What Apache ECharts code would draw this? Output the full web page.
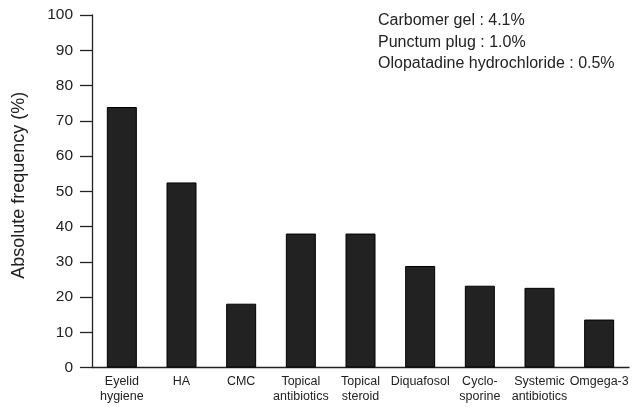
<!DOCTYPE html>
<html>
<head>
<meta charset="utf-8">
<script src="https://cdn.jsdelivr.net/npm/echarts@6/dist/echarts.min.js"></script>
<style>
  html, body { margin: 0; padding: 0; background: #fff; }
  #main { width: 633px; height: 407px; }
</style>
</head>
<body>
<div id="main"></div>
<script>
// data
const categories = ['Eyelid\nhygiene', 'HA', 'CMC', 'Topical\nantibiotics', 'Topical\nsteroid',
  'Diquafosol', 'Cyclo-\nsporine', 'Systemic\nantibiotics', 'Omgega-3'];
const frequency = [73.9, 52.5, 18.1, 38.0, 38.0, 28.8, 23.2, 22.6, 13.6];
const yTicks = [0, 10, 20, 30, 40, 50, 60, 70, 80, 90, 100];
const notes = ['Carbomer gel : 4.1%', 'Punctum plug : 1.0%', 'Olopatadine hydrochloride : 0.5%'];

const font = '"Liberation Sans", Arial, sans-serif';
const ink = '#222';

const chart = echarts.init(document.getElementById('main'), null, { renderer: 'canvas' });

chart.setOption({
  animation: false,
  grid: { left: 92, right: 4, top: 15, bottom: 39.5, containLabel: false },
  xAxis: {
    type: 'category',
    data: categories,
    axisLine: { lineStyle: { color: ink, width: 1.3 } },
    axisTick: { show: false },
    axisLabel: {
      interval: 0,
      color: ink,
      fontFamily: font,
      fontSize: 12.5,
      lineHeight: 14.5,
      margin: 7
    }
  },
  yAxis: {
    type: 'value',
    min: yTicks[0],
    max: yTicks[yTicks.length - 1],
    interval: 10,
    name: 'Absolute frequency (%)',
    nameLocation: 'middle',
    nameGap: 64,
    nameTextStyle: { color: ink, fontFamily: font, fontSize: 18, padding: [0, 0, 0, 12] },
    axisLine: { show: true, lineStyle: { color: ink, width: 1.3 } },
    axisTick: { show: true, length: 12, lineStyle: { color: ink, width: 1.3 } },
    axisLabel: { color: ink, fontFamily: font, fontSize: 15.5, margin: 19 },
    splitLine: { show: false }
  },
  series: [{
    type: 'bar',
    data: frequency,
    barWidth: 30,
    itemStyle: { color: '#222', borderColor: '#000', borderWidth: 1 }
  }],
  graphic: notes.map((t, i) => ({
    type: 'text',
    left: 378,
    top: 13 + i * 21.3,
    style: { text: t, fill: ink, font: '16px ' + font }
  }))
});
</script>
</body>
</html>
